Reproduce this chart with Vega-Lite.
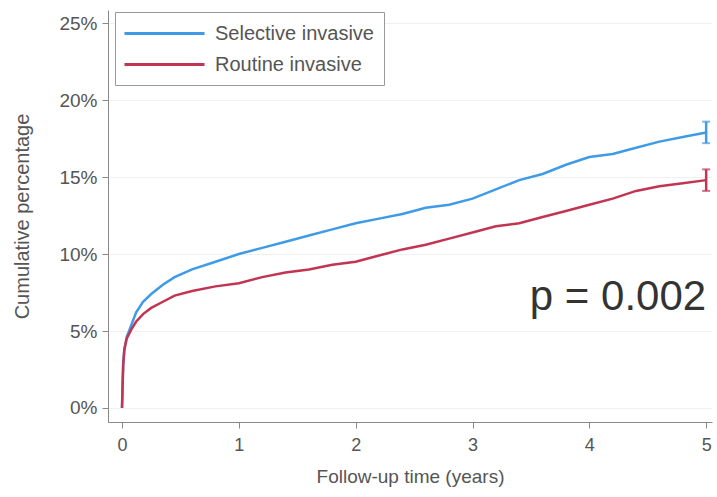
{
  "$schema": "https://vega.github.io/schema/vega-lite/v6.json",
  "width": 604,
  "height": 412,
  "autosize": "none",
  "padding": {"left": 108, "top": 10, "right": 5, "bottom": 75},
  "background": "white",
  "config": {
    "view": {"stroke": null},
    "font": "Liberation Sans",
    "axis": {"labelFont": "Liberation Sans", "titleFont": "Liberation Sans", "labelColor": "#555", "titleColor": "#555", "domainColor": "#888", "tickColor": "#888", "titleFontWeight": "normal"}
  },
  "datasets": {
    "curves": [
      {"group": "Selective invasive", "t": 0, "pct": 0},
      {"group": "Selective invasive", "t": 0.005, "pct": 1.5},
      {"group": "Selective invasive", "t": 0.01, "pct": 2.8},
      {"group": "Selective invasive", "t": 0.02, "pct": 3.8},
      {"group": "Selective invasive", "t": 0.04, "pct": 4.6},
      {"group": "Selective invasive", "t": 0.08, "pct": 5.4},
      {"group": "Selective invasive", "t": 0.12, "pct": 6.2},
      {"group": "Selective invasive", "t": 0.18, "pct": 6.9},
      {"group": "Selective invasive", "t": 0.25, "pct": 7.4},
      {"group": "Selective invasive", "t": 0.35, "pct": 8.0},
      {"group": "Selective invasive", "t": 0.45, "pct": 8.5},
      {"group": "Selective invasive", "t": 0.6, "pct": 9.0},
      {"group": "Selective invasive", "t": 0.8, "pct": 9.5},
      {"group": "Selective invasive", "t": 1.0, "pct": 10.0},
      {"group": "Selective invasive", "t": 1.2, "pct": 10.4},
      {"group": "Selective invasive", "t": 1.4, "pct": 10.8},
      {"group": "Selective invasive", "t": 1.6, "pct": 11.2},
      {"group": "Selective invasive", "t": 1.8, "pct": 11.6},
      {"group": "Selective invasive", "t": 2.0, "pct": 12.0},
      {"group": "Selective invasive", "t": 2.2, "pct": 12.3},
      {"group": "Selective invasive", "t": 2.4, "pct": 12.6},
      {"group": "Selective invasive", "t": 2.6, "pct": 13.0},
      {"group": "Selective invasive", "t": 2.8, "pct": 13.2},
      {"group": "Selective invasive", "t": 3.0, "pct": 13.6},
      {"group": "Selective invasive", "t": 3.2, "pct": 14.2},
      {"group": "Selective invasive", "t": 3.4, "pct": 14.8},
      {"group": "Selective invasive", "t": 3.6, "pct": 15.2},
      {"group": "Selective invasive", "t": 3.8, "pct": 15.8},
      {"group": "Selective invasive", "t": 4.0, "pct": 16.3},
      {"group": "Selective invasive", "t": 4.2, "pct": 16.5},
      {"group": "Selective invasive", "t": 4.4, "pct": 16.9},
      {"group": "Selective invasive", "t": 4.6, "pct": 17.3},
      {"group": "Selective invasive", "t": 4.8, "pct": 17.6},
      {"group": "Selective invasive", "t": 5.0, "pct": 17.9},
      {"group": "Routine invasive", "t": 0, "pct": 0},
      {"group": "Routine invasive", "t": 0.005, "pct": 1.5},
      {"group": "Routine invasive", "t": 0.01, "pct": 2.8},
      {"group": "Routine invasive", "t": 0.02, "pct": 3.8},
      {"group": "Routine invasive", "t": 0.04, "pct": 4.5},
      {"group": "Routine invasive", "t": 0.08, "pct": 5.1},
      {"group": "Routine invasive", "t": 0.12, "pct": 5.6},
      {"group": "Routine invasive", "t": 0.18, "pct": 6.1},
      {"group": "Routine invasive", "t": 0.25, "pct": 6.5},
      {"group": "Routine invasive", "t": 0.35, "pct": 6.9},
      {"group": "Routine invasive", "t": 0.45, "pct": 7.3},
      {"group": "Routine invasive", "t": 0.6, "pct": 7.6},
      {"group": "Routine invasive", "t": 0.8, "pct": 7.9},
      {"group": "Routine invasive", "t": 1.0, "pct": 8.1},
      {"group": "Routine invasive", "t": 1.2, "pct": 8.5},
      {"group": "Routine invasive", "t": 1.4, "pct": 8.8},
      {"group": "Routine invasive", "t": 1.6, "pct": 9.0},
      {"group": "Routine invasive", "t": 1.8, "pct": 9.3},
      {"group": "Routine invasive", "t": 2.0, "pct": 9.5},
      {"group": "Routine invasive", "t": 2.2, "pct": 9.9},
      {"group": "Routine invasive", "t": 2.4, "pct": 10.3},
      {"group": "Routine invasive", "t": 2.6, "pct": 10.6},
      {"group": "Routine invasive", "t": 2.8, "pct": 11.0},
      {"group": "Routine invasive", "t": 3.0, "pct": 11.4},
      {"group": "Routine invasive", "t": 3.2, "pct": 11.8},
      {"group": "Routine invasive", "t": 3.4, "pct": 12.0},
      {"group": "Routine invasive", "t": 3.6, "pct": 12.4},
      {"group": "Routine invasive", "t": 3.8, "pct": 12.8},
      {"group": "Routine invasive", "t": 4.0, "pct": 13.2},
      {"group": "Routine invasive", "t": 4.2, "pct": 13.6},
      {"group": "Routine invasive", "t": 4.4, "pct": 14.1},
      {"group": "Routine invasive", "t": 4.6, "pct": 14.4},
      {"group": "Routine invasive", "t": 4.8, "pct": 14.6},
      {"group": "Routine invasive", "t": 5.0, "pct": 14.8}
    ],
    "ci": [
      {"group": "Selective invasive", "t": 5.0, "lo": 17.2, "hi": 18.6},
      {"group": "Routine invasive", "t": 5.0, "lo": 14.1, "hi": 15.5}
    ],
    "label": [
      {"t": 5.0, "pct": 7.2, "text": "p = 0.002"}
    ]
  },
  "layer": [
    {
      "data": {"name": "curves"},
      "mark": {"type": "line", "strokeWidth": 2.5, "interpolate": "linear"},
      "encoding": {
        "x": {"field": "t", "type": "quantitative", "scale": {"domain": [-0.12, 5.05], "nice": false, "zero": false},
          "axis": {"values": [0, 1, 2, 3, 4, 5], "format": "d", "title": "Follow-up time (years)", "labelFontSize": 18, "titleFontSize": 19, "titlePadding": 13, "grid": false, "tickSize": 6, "labelPadding": 8}},
        "y": {"field": "pct", "type": "quantitative", "scale": {"domain": [-0.91, 25.85], "nice": false, "zero": false},
          "axis": {"values": [0, 5, 10, 15, 20, 25], "labelExpr": "datum.value + '%'", "title": "Cumulative percentage", "labelFontSize": 19, "titleFontSize": 20, "titlePadding": 26, "grid": true, "gridColor": "#f0f0f0", "tickSize": 6, "labelPadding": 5}},
        "color": {"field": "group", "type": "nominal",
          "scale": {"domain": ["Selective invasive", "Routine invasive"], "range": ["#3f9be6", "#c23552"]},
          "legend": {"title": null, "orient": "none", "legendX": 7, "legendY": 2, "symbolType": "M-4,0H4", "symbolSize": 400, "symbolStrokeWidth": 3, "symbolOffset": 28, "labelOffset": 39, "labelFontSize": 20, "labelColor": "#555", "strokeColor": "#999", "padding": 10, "rowPadding": 9, "fillColor": "white", "labelLimit": 300}},
        "detail": {"field": "group"}
      }
    },
    {
      "data": {"name": "ci"},
      "mark": {"type": "rule", "strokeWidth": 2.5},
      "encoding": {
        "x": {"field": "t", "type": "quantitative"},
        "y": {"field": "lo", "type": "quantitative"},
        "y2": {"field": "hi"},
        "color": {"field": "group", "type": "nominal", "legend": null}
      }
    },
    {
      "data": {"name": "ci"},
      "mark": {"type": "tick", "orient": "horizontal", "size": 8, "thickness": 2},
      "encoding": {
        "x": {"field": "t", "type": "quantitative"},
        "y": {"field": "lo", "type": "quantitative"},
        "color": {"field": "group", "type": "nominal", "legend": null}
      }
    },
    {
      "data": {"name": "ci"},
      "mark": {"type": "tick", "orient": "horizontal", "size": 8, "thickness": 2},
      "encoding": {
        "x": {"field": "t", "type": "quantitative"},
        "y": {"field": "hi", "type": "quantitative"},
        "color": {"field": "group", "type": "nominal", "legend": null}
      }
    },
    {
      "data": {"name": "label"},
      "mark": {"type": "text", "align": "right", "baseline": "middle", "fontSize": 42, "color": "#333", "font": "Liberation Sans"},
      "encoding": {
        "x": {"field": "t", "type": "quantitative"},
        "y": {"field": "pct", "type": "quantitative"},
        "text": {"field": "text"}
      }
    }
  ]
}
